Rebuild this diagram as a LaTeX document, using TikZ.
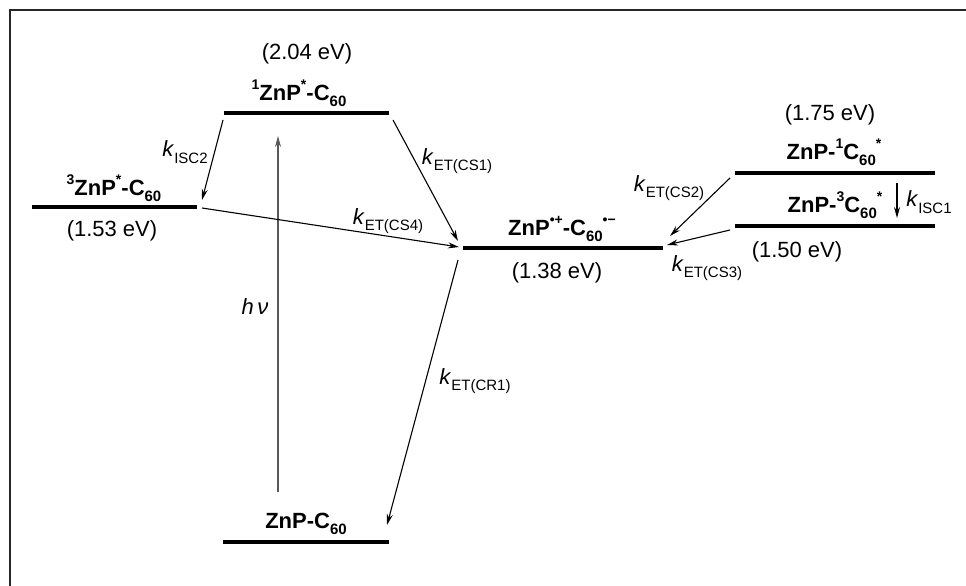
\documentclass[tikz,border=0pt]{standalone}
\usepackage{fontspec}
\setmainfont{Liberation Sans}
\usetikzlibrary{arrows.meta}
% raised and lowered script text
\newcommand{\upsc}[1]{\raisebox{0.5em}{\fontsize{14}{14}\selectfont #1}}
\newcommand{\dnsc}[1]{\raisebox{-0.3em}{\fontsize{15}{15}\selectfont #1}}
\newcommand{\rate}[1]{\textit{k}\dnsc{#1}}
\begin{document}
\begin{tikzpicture}[x=1pt,y=-1pt,
  frameline/.style={line width=2.8pt, black!85},
  level/.style={line width=4pt},
  ratearrow/.style={line width=1.1pt, -{Stealth[length=11pt,width=6pt]}},
  lightarrow/.style={line width=1.3pt, black!65, -{Stealth[length=11pt,width=6pt]}},
  state/.style={font=\fontsize{22}{26}\selectfont\bfseries, inner sep=0pt, anchor=base},
  energy/.style={font=\fontsize{22}{26}\selectfont, inner sep=0pt},
  klabel/.style={font=\fontsize{22}{26}\selectfont, inner sep=0pt}]
\useasboundingbox (0,0) rectangle (966,586);

% corner frame
\draw[frameline] (966,10) -- (10,10) -- (10,586);

% energy levels
\coordinate (s1l) at (224,113); \coordinate (s1r) at (389,113);
\coordinate (t1l) at (32,207);  \coordinate (t1r) at (197,207);
\coordinate (csl) at (463,248); \coordinate (csr) at (663,248);
\coordinate (f1l) at (735,173); \coordinate (f1r) at (935,173);
\coordinate (f3l) at (735,226); \coordinate (f3r) at (935,226);
\coordinate (gl)  at (223,542); \coordinate (gr)  at (389,542);
\foreach \a/\b in {s1l/s1r, t1l/t1r, csl/csr, f1l/f1r, f3l/f3r, gl/gr}
  \draw[level] (\a) -- (\b);

% state labels
\node[state] (lbS1) at (299,100) {\upsc{1}ZnP\upsc{*}-C\dnsc{60}};
\node[state] (lbT1) at (114,195) {\upsc{3}ZnP\upsc{*}-C\dnsc{60}};
\node[state] (lbCS) at (562,235) {ZnP\upsc{•+}-C\dnsc{60}\upsc{•−}};
\node[state] (lbF1) at (834,159) {ZnP-\upsc{1}C\dnsc{60}\upsc{*}};
\node[state] (lbF3) at (835,212) {ZnP-\upsc{3}C\dnsc{60}\upsc{*}};
\node[state] (lbG)  at (306,528) {ZnP-C\dnsc{60}};

% energies
\node[energy] (eS1) at (307,54)  {(2.04 eV)};
\node[energy] (eT1) at (112,231) {(1.53 eV)};
\node[energy] (eCS) at (557,273) {(1.38 eV)};
\node[energy] (eF1) at (830,115) {(1.75 eV)};
\node[energy] (eF3) at (797,252) {(1.50 eV)};

% arrow end points
\coordinate (hvA) at (278,492);  \coordinate (hvB) at (278,136);
\coordinate (iscA) at (223,120); \coordinate (iscB) at (202,200);
\coordinate (cs1A) at (393,120); \coordinate (cs1B) at (458,241);
\coordinate (cs4A) at (202,208); \coordinate (cs4B) at (459,247);
\coordinate (crA) at (458,260);  \coordinate (crB) at (387,525);
\coordinate (cs2A) at (730,178); \coordinate (cs2B) at (670,236);
\coordinate (cs3A) at (730,230); \coordinate (cs3B) at (667,245);
\coordinate (isc1A) at (897,183); \coordinate (isc1B) at (897,218);

% transitions
\draw[lightarrow] (hvA) -- (hvB);
\draw[ratearrow] (iscA) -- (iscB);
\draw[ratearrow] (cs1A) -- (cs1B);
\draw[ratearrow] (cs4A) -- (cs4B);
\draw[ratearrow] (crA) -- (crB);
\draw[ratearrow] (cs2A) -- (cs2B);
\draw[ratearrow] (cs3A) -- (cs3B);
\draw[ratearrow] (isc1A) -- (isc1B);

% rate labels
\node[klabel] (kHv)  at (255,307) {\textit{h\,ν}};
\node[klabel] (kIsc2) at (185,152) {\rate{ISC2}};
\node[klabel] (kCs1) at (457,161) {\rate{ET(CS1)}};
\node[klabel] (kCs4) at (388,221) {\rate{ET(CS4)}};
\node[klabel] (kCr1) at (475,381) {\rate{ET(CR1)}};
\node[klabel] (kCs2) at (669,188) {\rate{ET(CS2)}};
\node[klabel] (kCs3) at (707,268) {\rate{ET(CS3)}};
\node[klabel] (kIsc1) at (929,202) {\rate{ISC1}};
\end{tikzpicture}
\end{document}
